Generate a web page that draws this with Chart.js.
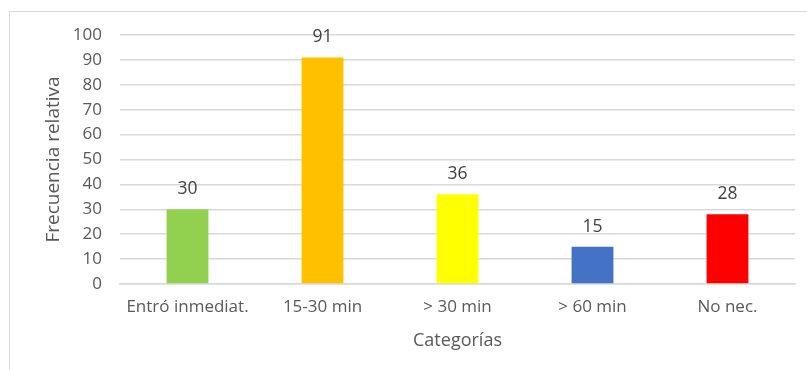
<!DOCTYPE html>
<html>
<head>
<meta charset="utf-8">
<script src="https://cdn.jsdelivr.net/npm/chart.js@4"></script>
<style>
  html, body { margin: 0; padding: 0; background: #fff; overflow: hidden; }
  .frame { position: absolute; left: 9px; top: 11px; width: 820px; height: 380px; border: 1px solid #d9d9d9; box-sizing: border-box; }
  .wrap { position: absolute; left: 0; top: 0; width: 807px; height: 370px; }
</style>
</head>
<body>
<div class="frame"></div>
<div class="wrap"><canvas id="chart"></canvas></div>
<script>
; (function () {
    'use strict'

    // ── Data ──────────────────────────────────────────────────────────────
    const categories = ['Entró inmediat.', '15-30 min', '> 30 min', '> 60 min', 'No nec.']
    const frecuencias = [30, 91, 36, 15, 28]
    const barColors = ['#92d050', '#ffc000', '#ffff00', '#4472c4', '#ff0000']

    const FONT = '"Open Sans", sans-serif'
    const TEXT = '#595959'
    const SIZE = 17

    // value above each bar
    const valueLabels = {
        id: 'valueLabels',
        afterDatasetsDraw(chart) {
            const ctx = chart.ctx
            const meta = chart.getDatasetMeta(0)
            ctx.save()
            ctx.font = '17.5px ' + FONT
            ctx.fillStyle = '#404040'
            ctx.textAlign = 'center'
            ctx.textBaseline = 'middle'
            meta.data.forEach((bar, i) => {
                ctx.fillText(String(frecuencias[i]), bar.x, bar.y - 20)
            })
            ctx.restore()
        }
    }

    new Chart(document.getElementById('chart'), {
        type: 'bar',
        data: {
            labels: categories,
            datasets: [{
                data: frecuencias,
                backgroundColor: barColors,
                borderWidth: 0,
                categoryPercentage: 1,
                barPercentage: 0.31
            }]
        },
        options: {
            responsive: true,
            maintainAspectRatio: false,
            animation: false,
            layout: { padding: { top: 35, right: 12, bottom: 18, left: 0 } },
            plugins: {
                legend: { display: false },
                tooltip: { enabled: false }
            },
            scales: {
                x: {
                    grid: { display: false, drawTicks: false },
                    border: { color: '#d9d9d9', width: 1.5 },
                    ticks: { color: TEXT, font: { family: FONT, size: SIZE }, padding: 13 },
                    title: { display: true, text: 'Categorías', color: TEXT, font: { family: FONT, size: 18 }, padding: 0 },
                    afterFit: s => { s.height = 68 }
                },
                y: {
                    min: 0, max: 100,
                    ticks: { stepSize: 10, color: TEXT, font: { family: FONT, size: SIZE }, padding: 18 },
                    grid: { color: '#d9d9d9', lineWidth: 1.5, drawTicks: false },
                    border: { display: false },
                    title: { display: true, text: 'Frecuencia relativa', color: TEXT, font: { family: FONT, size: 19 }, padding: { top: 42, bottom: 0 } },
                    afterFit: s => { s.width = 120 }
                }
            }
        },
        plugins: [valueLabels]
    })
})()
</script>
</body>
</html>
